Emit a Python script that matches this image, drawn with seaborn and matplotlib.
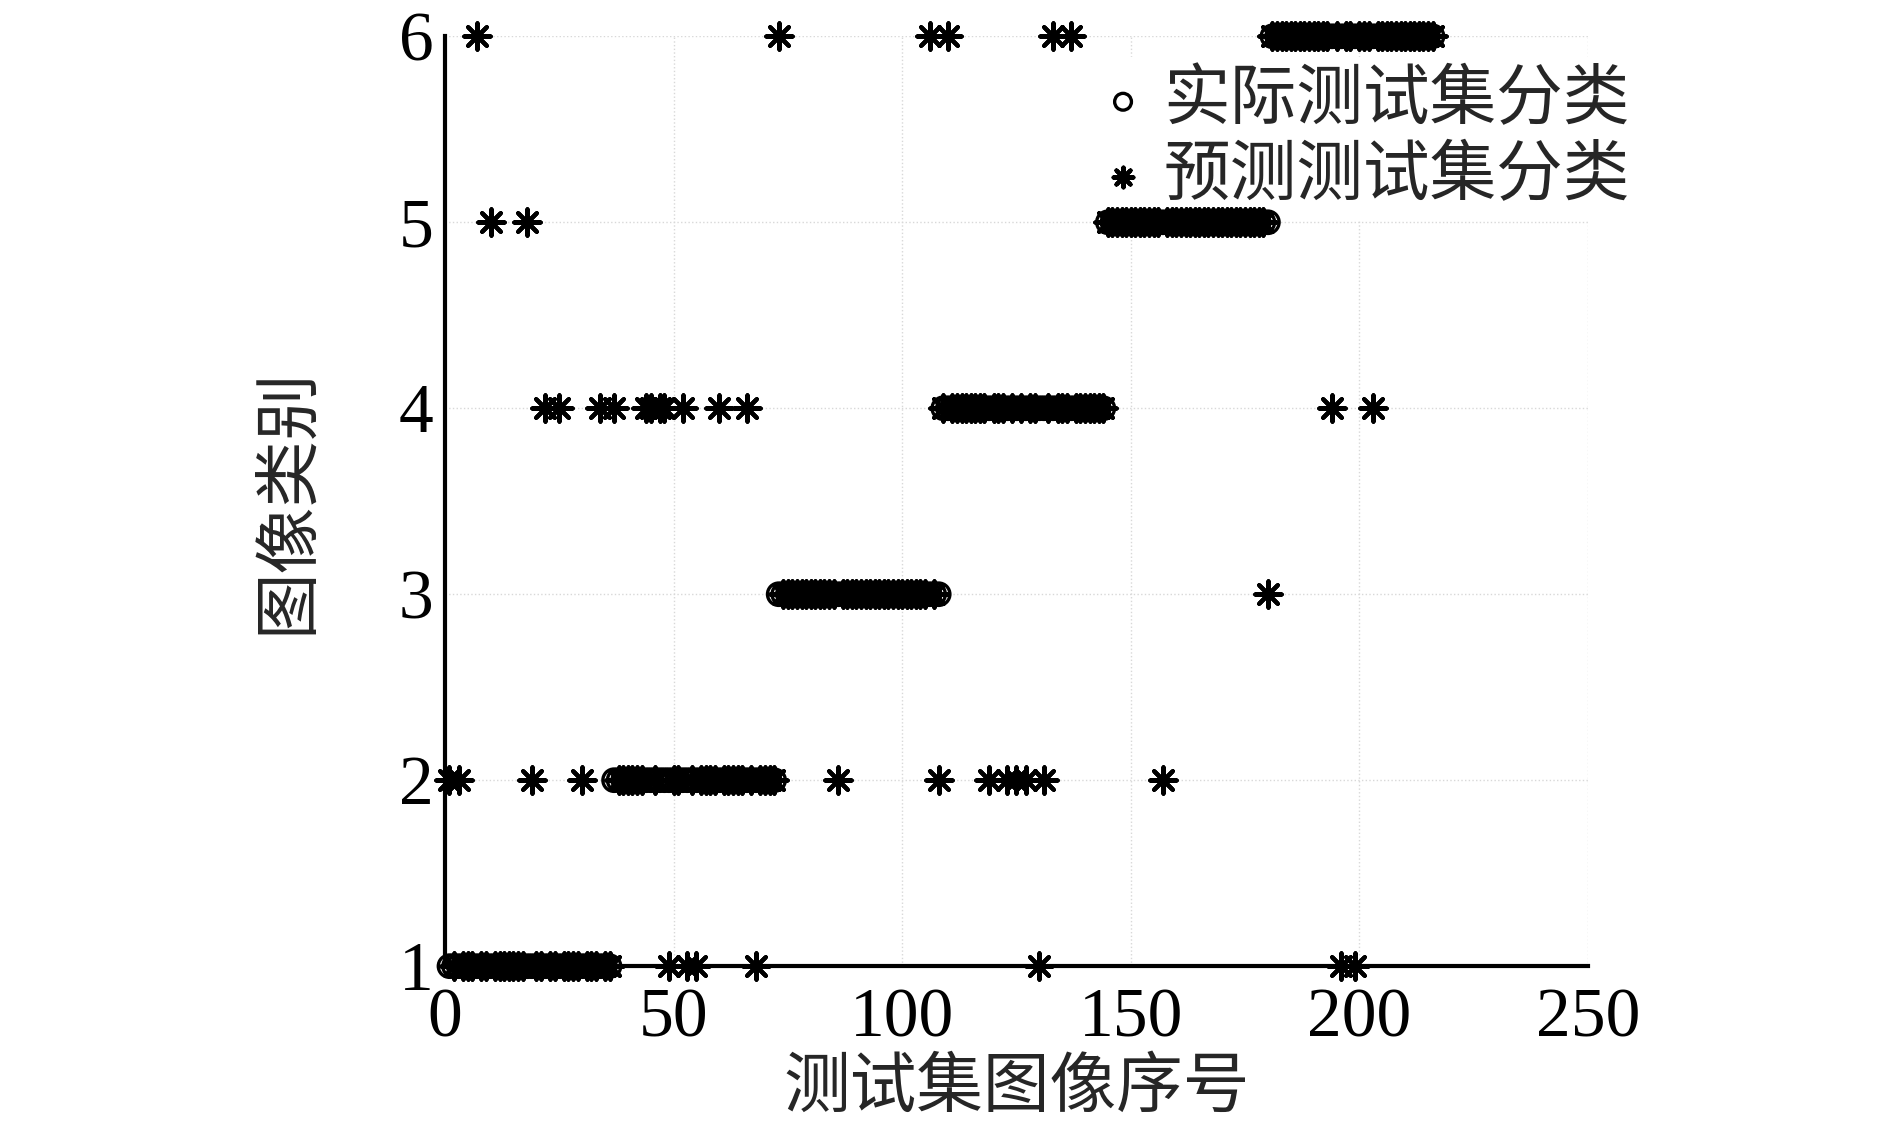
import matplotlib
matplotlib.use("Agg")
import matplotlib.pyplot as plt
import seaborn as sns
import pandas as pd
import numpy as np

# ---- data ----
class_labels = [1, 2, 3, 4, 5, 6]
class_first_index = [1, 37, 73, 109, 145, 181]
class_last_index = [36, 72, 108, 144, 180, 216]

# misclassified samples: image index and predicted class
wrong_index = [7, 73, 106, 110, 133, 137,
               10, 18,
               22, 25, 34, 37, 44, 45, 47, 48, 52, 60, 66, 194, 203,
               180,
               1, 3, 19, 30, 86, 108, 119, 123, 125, 127, 131, 157,
               49, 53, 55, 68, 130, 196, 199]
wrong_pred = [6, 6, 6, 6, 6, 6,
              5, 5,
              4, 4, 4, 4, 4, 4, 4, 4, 4, 4, 4, 4, 4,
              3,
              2, 2, 2, 2, 2, 2, 2, 2, 2, 2, 2, 2,
              1, 1, 1, 1, 1, 1, 1]

x_ticks = [0, 50, 100, 150, 200, 250]
y_ticks = [1, 2, 3, 4, 5, 6]
x_label = "测试集图像序号"
y_label = "图像类别"
legend_actual = "实际测试集分类"
legend_pred = "预测测试集分类"

# build tables
idx, actual = [], []
for c, a, b in zip(class_labels, class_first_index, class_last_index):
    for i in range(a, b + 1):
        idx.append(i)
        actual.append(c)
pred_map = dict(zip(idx, actual))
for i, p in zip(wrong_index, wrong_pred):
    pred_map[i] = p
df = pd.DataFrame({"idx": idx, "actual": actual,
                   "pred": [pred_map[i] for i in idx]})

# ---- figure ----
sns.set_theme(style="white")
cjk = ["Noto Sans CJK SC", "DejaVu Sans"]
serif = ["Liberation Serif", "DejaVu Serif"]
plt.rcParams["font.family"] = cjk

fig = plt.figure(figsize=(18.9, 11.34), dpi=100)
ax = fig.add_axes([0.2354, 0.148, 0.6048, 0.820])

sns.scatterplot(data=df, x="idx", y="actual", ax=ax, marker="o", s=260,
                facecolor="none", edgecolor="black", linewidth=2.4,
                clip_on=False, label=legend_actual, zorder=3)
sns.scatterplot(data=df, x="idx", y="pred", ax=ax, marker=(8, 2, 0), s=360,
                color="black", linewidth=3.0,
                clip_on=False, label=legend_pred, zorder=4)

ax.set_xlim(0, 250)
ax.set_ylim(1, 6)
ax.set_xticks(x_ticks)
ax.set_yticks(y_ticks)
ax.set_xticklabels([str(t) for t in x_ticks], fontfamily=serif, fontsize=50)
ax.set_yticklabels([str(t) for t in y_ticks], fontfamily=serif, fontsize=50)
ax.tick_params(direction="in", length=14, width=3, colors="black")
ax.tick_params(axis="x", pad=16)
ax.tick_params(axis="y", pad=8)

for s in ["top", "right"]:
    ax.spines[s].set_visible(False)
for s in ["left", "bottom"]:
    ax.spines[s].set_linewidth(3)
    ax.spines[s].set_color("black")

ax.grid(True, linestyle=":", color="#d8d8d8", linewidth=1.0)
ax.set_axisbelow(True)

ax.set_xlabel(x_label, fontsize=48, labelpad=2)
ax.set_ylabel(y_label, fontsize=48, labelpad=56)

leg = ax.legend(loc="upper right", bbox_to_anchor=(1.045, 0.978), fontsize=48,
                frameon=True, facecolor="white", edgecolor="white", framealpha=1,
                handletextpad=0.2, borderpad=0.15, labelspacing=0.12,
                borderaxespad=0, handlelength=0.8, markerscale=0.75)
leg.set_zorder(2.5)

fig.savefig("out.png", dpi=100, facecolor="white")
